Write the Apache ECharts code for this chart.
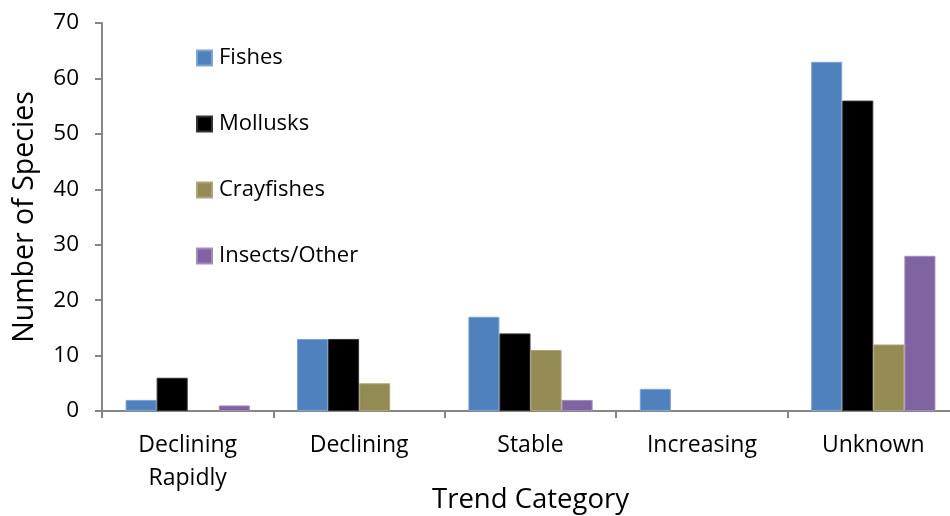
<!DOCTYPE html>
<html>
<head>
<meta charset="utf-8">
<script src="https://cdn.jsdelivr.net/npm/echarts@6/dist/echarts.min.js"></script>
<style>html,body{margin:0;padding:0;background:#fff}#c{width:950px;height:516px}</style>
</head>
<body>
<div id="c"></div>
<script>
const categories = ['Declining\nRapidly', 'Declining', 'Stable', 'Increasing', 'Unknown'];
const fishes = [2, 13, 17, 4, 63];
const mollusks = [6, 13, 14, 0, 56];
const crayfishes = [0, 5, 11, 0, 12];
const insects = [1, 0, 2, 0, 28];
const seriesNames = ['Fishes', 'Mollusks', 'Crayfishes', 'Insects/Other'];
const yTicks = [0, 10, 20, 30, 40, 50, 60, 70];

const colors = ['#4F81BD', '#000000', '#948A54', '#8064A2'];
const borders = ['#7FA3D3', '#333333', '#ABA47A', '#A08BBE'];
const FONT = 'Open Sans';
const chart = echarts.init(document.getElementById('c'), null, {renderer: 'canvas'});
const data = [fishes, mollusks, crayfishes, insects];
chart.setOption({
  animation: false,
  backgroundColor: '#fff',
  textStyle: {fontFamily: FONT},
  grid: {left: 102, top: 23, width: 857, height: 388, containLabel: false, outerBoundsMode: 'none'},
  legend: {
    orient: 'vertical', left: 196, top: 47, padding: 0,
    itemWidth: 15, itemHeight: 15, itemGap: 44,
    icon: 'rect',
    textStyle: {fontFamily: FONT, fontSize: 22, color: '#000', padding: [0, 0, 0, 2]},
    data: seriesNames
  },
  xAxis: {
    type: 'category', data: categories,
    name: 'Trend Category', nameLocation: 'middle', nameGap: 75, nameMoveOverlap: false,
    nameTextStyle: {fontFamily: FONT, fontSize: 27.5, color: '#000'},
    axisLine: {lineStyle: {color: '#868686', width: 2}},
    axisTick: {show: true, length: 7, lineStyle: {color: '#868686', width: 2}},
    axisLabel: {fontFamily: FONT, fontSize: 23, color: '#000', margin: 18, lineHeight: 33},
    splitLine: {show: false}
  },
  yAxis: {
    type: 'value', min: yTicks[0], max: yTicks[yTicks.length - 1], interval: 10,
    name: 'Number of Species', nameLocation: 'middle', nameGap: 63, nameRotate: 90, nameMoveOverlap: false,
    nameTextStyle: {fontFamily: FONT, fontSize: 28.5, color: '#000'},
    axisLine: {show: true, lineStyle: {color: '#868686', width: 2}},
    axisTick: {show: true, length: 7, lineStyle: {color: '#868686', width: 2}},
    axisLabel: {fontFamily: FONT, fontSize: 22.5, color: '#000', margin: 23},
    splitLine: {show: false}
  },
  series: seriesNames.map((n, i) => ({
    name: n, type: 'bar',
    data: data[i].map(v => v === 0 ? {value: v, itemStyle: {borderWidth: 0}} : v),
    barGap: '0%', barCategoryGap: '27.5%',
    itemStyle: {color: colors[i], borderColor: borders[i], borderWidth: 1}
  }))
});
</script>
</body>
</html>
